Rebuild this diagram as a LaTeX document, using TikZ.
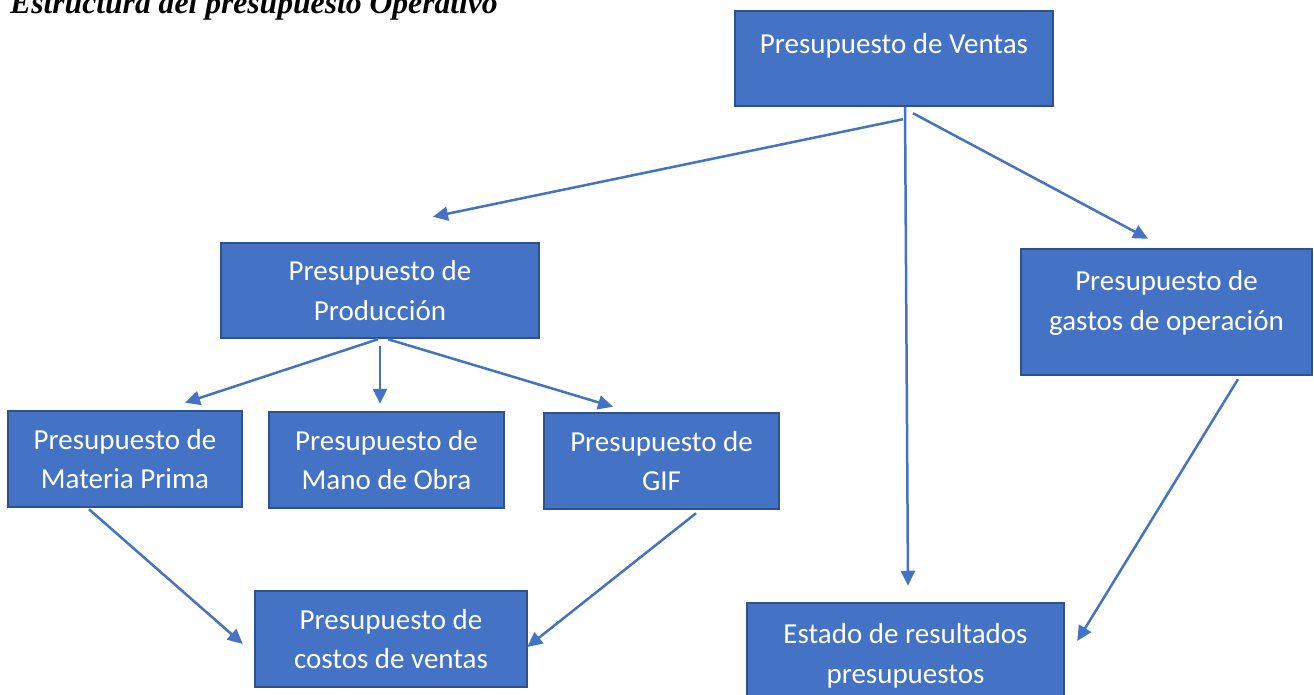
\documentclass[tikz,border=0pt]{standalone}
\usepackage{fontspec}
\usepackage{tikz}
\usetikzlibrary{arrows.meta,calc}
\newfontfamily\calibrifont{Carlito}
\newfontfamily\timesfont{Liberation Serif}
\definecolor{azulcaja}{HTML}{4472C4}
\definecolor{bordecaja}{HTML}{2F528F}
\begin{document}
\begin{tikzpicture}[x=0.02cm,y=-0.02cm,
		caja/.style={draw=bordecaja,fill=azulcaja,line width=0.05cm,text=white,align=center,
			inner sep=0pt,font=\calibrifont\fontsize{16.5}{22.7}\selectfont},
		flecha/.style={azulcaja,line width=0.05cm,-{Triangle[length=0.3cm,width=0.28cm]}}]
			\useasboundingbox (0,0) rectangle (1314,695);
			\node[anchor=base west,font=\timesfont\bfseries\itshape\fontsize{18}{22}\selectfont] (titulo) at (4,14) {Estructura del presupuesto Operativo};
			\node[caja,minimum width=318*0.02cm,minimum height=95*0.02cm] (ventas) at (894,58.5) {Presupuesto de Ventas\\[-5pt]\mbox{}};
			\node[caja,minimum width=318*0.02cm,minimum height=95*0.02cm] (produccion) at (380,290.5) {Presupuesto de\\Producción};
			\node[caja,minimum width=291*0.02cm,minimum height=126*0.02cm] (gastos) at (1166.5,312) {Presupuesto de\\gastos de operación\\[-10pt]\mbox{}};
			\node[caja,minimum width=234*0.02cm,minimum height=96*0.02cm] (materia) at (125,459) {Presupuesto de\\Materia Prima};
			\node[caja,minimum width=235*0.02cm,minimum height=96*0.02cm] (mano) at (386.5,460) {Presupuesto de\\Mano de Obra};
			\node[caja,minimum width=235*0.02cm,minimum height=96*0.02cm] (gif) at (661.5,461) {Presupuesto de\\GIF};
			\node[caja,minimum width=272*0.02cm,minimum height=96*0.02cm] (costos) at (391,639) {Presupuesto de\\costos de ventas};
			\node[caja,minimum width=317*0.02cm,minimum height=106*0.02cm] (estado) at (905.5,656) {Estado de resultados\\presupuestos};
			\draw[flecha] ($(ventas.south)+(9,12)$) -- ($(produccion.north)+(53,-25)$);
			\draw[flecha] ($(ventas.south)+(19,6)$) -- ($(gastos.north)+(-18.5,-9)$);
			\draw[flecha] ($(ventas.south)+(11,0)$) -- ($(estado.north)+(2.5,-16)$);
			\draw[flecha] ($(produccion.south)+(-2,0)$) -- ($(materia.north)+(60,-7)$);
			\draw[flecha] ($(produccion.south)+(0,7)$) -- ($(mano.north)+(-6.5,-7)$);
			\draw[flecha] ($(produccion.south)+(8,0)$) -- ($(gif.north)+(-48.5,-5)$);
			\draw[flecha] ($(materia.south)+(-36,1)$) -- ($(costos.west)+(-11,5)$);
			\draw[flecha] ($(gif.south)+(34.5,3)$) -- ($(costos.east)+(-1,8)$);
			\draw[flecha] ($(gastos.south)+(71.5,3)$) -- ($(estado.east)+(12,-15)$);
		\end{tikzpicture}
\end{document}
